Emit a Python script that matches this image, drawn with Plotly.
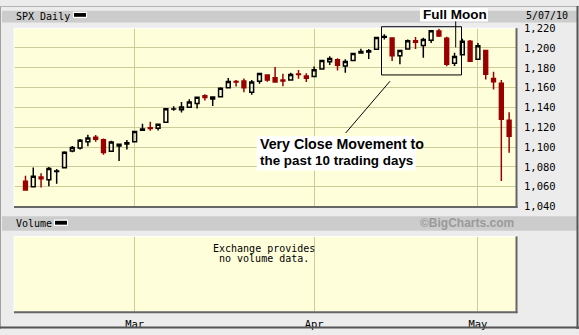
import plotly.graph_objects as go

# ---------------- data ----------------
dates = ["2010-02-08","2010-02-09","2010-02-10","2010-02-11","2010-02-12","2010-02-16","2010-02-17",
         "2010-02-18","2010-02-19","2010-02-22","2010-02-23","2010-02-24","2010-02-25","2010-02-26",
         "2010-03-01","2010-03-02","2010-03-03","2010-03-04","2010-03-05","2010-03-08","2010-03-09",
         "2010-03-10","2010-03-11","2010-03-12","2010-03-15","2010-03-16","2010-03-17","2010-03-18",
         "2010-03-19","2010-03-22","2010-03-23","2010-03-24","2010-03-25","2010-03-26","2010-03-29",
         "2010-03-30","2010-03-31","2010-04-01","2010-04-05","2010-04-06","2010-04-07","2010-04-08",
         "2010-04-09","2010-04-12","2010-04-13","2010-04-14","2010-04-15","2010-04-16","2010-04-19",
         "2010-04-20","2010-04-21","2010-04-22","2010-04-23","2010-04-26","2010-04-27","2010-04-28",
         "2010-04-29","2010-04-30","2010-05-03","2010-05-04","2010-05-05","2010-05-06","2010-05-07"]
opens = [1065.5,1060.1,1069.7,1067.1,1075.4,1079.1,1096.1,1099.0,1105.5,1110.0,1107.5,1095.9,1101.2,1103.1,
         1105.4,1117.0,1119.4,1119.1,1125.1,1138.4,1137.6,1140.2,1144.0,1151.7,1148.5,1150.8,1159.9,1166.1,
         1166.7,1155.4,1166.5,1172.7,1170.0,1167.6,1167.7,1173.8,1171.8,1171.2,1178.7,1186.0,1188.2,1181.8,
         1187.5,1194.9,1195.9,1198.7,1210.8,1210.2,1192.1,1199.0,1207.2,1202.5,1207.9,1217.1,1209.9,1184.6,
         1193.3,1206.8,1188.6,1197.5,1169.2,1164.4,1127.0]
highs = [1071.2,1079.3,1073.7,1080.0,1077.8,1095.7,1101.0,1108.2,1112.4,1112.3,1108.6,1106.4,1103.5,1107.2,
         1116.1,1123.5,1125.6,1123.7,1139.4,1141.1,1145.4,1148.3,1150.2,1153.4,1151.0,1160.3,1169.8,1167.8,
         1169.2,1167.8,1174.7,1173.0,1180.7,1173.9,1174.9,1177.8,1174.6,1181.4,1187.7,1191.8,1189.6,1188.6,
         1194.7,1199.2,1199.0,1210.7,1213.9,1210.2,1197.9,1208.6,1211.0,1210.3,1217.3,1219.8,1211.4,1195.1,
         1209.4,1208.0,1205.1,1197.5,1176.0,1167.6,1135.1]
lows = [1056.5,1060.1,1059.3,1060.6,1063.0,1079.1,1094.7,1097.5,1100.8,1105.4,1092.2,1095.5,1086.0,1097.6,
        1105.4,1116.5,1116.6,1116.7,1125.1,1136.8,1134.9,1140.1,1139.0,1147.0,1141.5,1150.4,1159.9,1161.2,
        1155.3,1152.9,1163.8,1166.0,1165.1,1161.5,1167.7,1168.9,1165.8,1170.7,1178.7,1182.8,1177.3,1175.1,
        1187.2,1194.7,1188.8,1198.7,1208.5,1186.8,1183.7,1199.0,1198.9,1190.2,1205.1,1211.1,1181.6,1181.8,
        1193.3,1186.3,1188.6,1168.1,1158.2,1065.8,1094.2]
closes = [1056.7,1070.5,1068.1,1078.5,1075.8,1094.9,1099.5,1106.8,1109.2,1108.0,1094.6,1105.2,1102.9,1104.5,
          1115.7,1118.3,1118.8,1123.0,1138.7,1138.5,1140.5,1145.6,1150.2,1150.0,1150.5,1159.5,1166.2,1165.8,
          1159.9,1165.8,1174.2,1167.7,1165.7,1166.6,1173.2,1173.3,1169.4,1178.1,1187.4,1189.4,1182.5,1186.4,
          1194.4,1196.5,1197.3,1210.7,1211.7,1192.1,1197.5,1207.2,1205.9,1208.7,1217.3,1212.1,1183.7,1191.4,
          1206.8,1186.7,1202.3,1173.6,1165.9,1128.2,1110.9]
month_ticks = ["2010-03-01", "2010-04-01", "2010-05-03"]
month_labels = ["Mar", "Apr", "May"]
price_ticks = list(range(1040, 1221, 20))

# ---------------- helpers (pixel -> paper) ----------------
W, H = 579, 335
def px(x): return x / W
def py(y): return 1 - y / H

MONO = "DejaVu Sans Mono"
SANS = "Liberation Sans, Arial"
GRID = "#cccc99"
RED = "#990000"
BG = "#fffedb"

fig = go.Figure()
fig.add_trace(go.Candlestick(
    x=dates, open=opens, high=highs, low=lows, close=closes,
    increasing=dict(line=dict(color="black", width=1.5), fillcolor="rgba(0,0,0,0)"),
    decreasing=dict(line=dict(color=RED, width=1.5), fillcolor=RED),
    whiskerwidth=0, showlegend=False, hoverinfo="skip",
    xaxis="x", yaxis="y"))
fig.add_trace(go.Scatter(x=dates, y=[0.5] * len(dates), mode="markers",
                         marker=dict(opacity=0), showlegend=False, hoverinfo="skip",
                         xaxis="x2", yaxis="y2"))

xr = [-1.47, 62.88]
fig.update_layout(
    width=W, height=H, margin=dict(l=0, r=0, t=0, b=0),
    paper_bgcolor="#ececec", plot_bgcolor=BG, showlegend=False,
    xaxis=dict(domain=[px(14), px(516)], type="category", range=xr,
               tickvals=month_ticks, ticktext=month_labels, showticklabels=False,
               showgrid=True, gridcolor=GRID, gridwidth=1, zeroline=False,
               rangeslider=dict(visible=False), ticks="", fixedrange=True),
    yaxis=dict(domain=[py(208), py(23)], range=[1040, 1220], side="right",
               tickvals=price_ticks, tickformat=",d", showgrid=True, gridcolor=GRID,
               gridwidth=1, zeroline=False, ticks="", ticklabelstandoff=7,
               tickfont=dict(family=MONO, size=10.5, color="black")),
    xaxis2=dict(domain=[px(14), px(516)], type="category", range=xr, anchor="y2",
                tickvals=month_ticks, ticktext=month_labels, showgrid=True,
                gridcolor=GRID, gridwidth=1, zeroline=False, ticks="",
                ticklabelstandoff=5, tickfont=dict(family=MONO, size=10.5, color="black")),
    yaxis2=dict(domain=[py(317), py(239)], range=[0, 1], anchor="x2",
                showgrid=False, showticklabels=False, zeroline=False, ticks=""),
)

shapes = []
def rect(x0, y0, x1, y1, fill=None, line=None, lw=0, layer="above"):
    shapes.append(dict(type="rect", xref="paper", yref="paper",
                       x0=px(x0), x1=px(x1), y0=py(y1), y1=py(y0),
                       fillcolor=fill if fill else "rgba(0,0,0,0)",
                       line=dict(color=line if line else "rgba(0,0,0,0)", width=lw),
                       layer=layer))
def line(x0, y0, x1, y1, color, lw=1, layer="above"):
    shapes.append(dict(type="line", xref="paper", yref="paper",
                       x0=px(x0), x1=px(x1), y0=py(y0), y1=py(y1),
                       line=dict(color=color, width=lw), layer=layer))

# header bands
rect(2, 5, 577, 17, fill="#cccccc", layer="below")
rect(2, 218, 577, 233, fill="#cccccc", layer="below")
# outer frame
line(0.5, 0, 0.5, 335, "#a0a0a0", 1)
line(0, 0.5, 579, 0.5, "#b4b4b4", 1)
line(577.5, 0, 577.5, 335, "#555555", 2)
line(0, 333.5, 579, 333.5, "#555555", 2)
# panel borders
for (t, b) in [(23, 208), (239, 317)]:
    line(14, t, 516, t, "#ffffff", 1)
    line(14, t, 14, b, "#ffffff", 1)
    line(14, b + 0.5, 517.5, b + 0.5, "#666666", 2)
    line(516.5, t, 516.5, b + 1.5, "#666666", 2)
# legend bars
rect(73, 6, 87, 12.5, fill="white")
rect(74, 7.3, 86, 11.2, fill="black")
rect(54, 221.5, 68, 228, fill="white")
rect(55, 222.8, 67, 226.8, fill="black")
# full moon box and pointer
rect(420, 2, 488, 16, fill="white")
rect(381.5, 21.5, 461.5, 71.5, line="black", lw=1)
line(455.7, 16, 455.7, 43, "black", 1)
# comment box and pointer
line(345.7, 131.7, 390, 78, "black", 1)
rect(256.7, 135, 415.7, 170.7, fill="white")
fig.update_layout(shapes=shapes)

ann = []
def text(x, y, s, size=10.5, family=MONO, color="black", xanchor="left", bold=False):
    ann.append(dict(xref="paper", yref="paper", x=px(x), y=py(y), text=("<b>%s</b>" % s) if bold else s,
                    showarrow=False, xanchor=xanchor, yanchor="middle",
                    font=dict(family=family, size=size, color=color)))
text(14, 11, "SPX Daily", size=10)
text(524, 9.5, "5/07/10", size=10)
text(14, 225.5, "Volume", size=10)
text(516, 225.5, "©BigCharts.com", size=12, family=SANS, color="#9a9a9a", xanchor="right", bold=True)
text(263.5, 251.7, "Exchange provides", size=10, xanchor="center")
text(263.5, 261.7, "no volume data.", size=10, xanchor="center")
text(454.5, 9, "Full Moon", size=13.5, family=SANS, xanchor="center", bold=True)
text(257.5, 143.5, "Very Close Movement to", size=14.2, family=SANS, bold=True)
text(257.5, 160.5, "the past 10 trading days", size=13.4, family=SANS, bold=True)
fig.update_layout(annotations=ann)

fig.write_html("out.html")
